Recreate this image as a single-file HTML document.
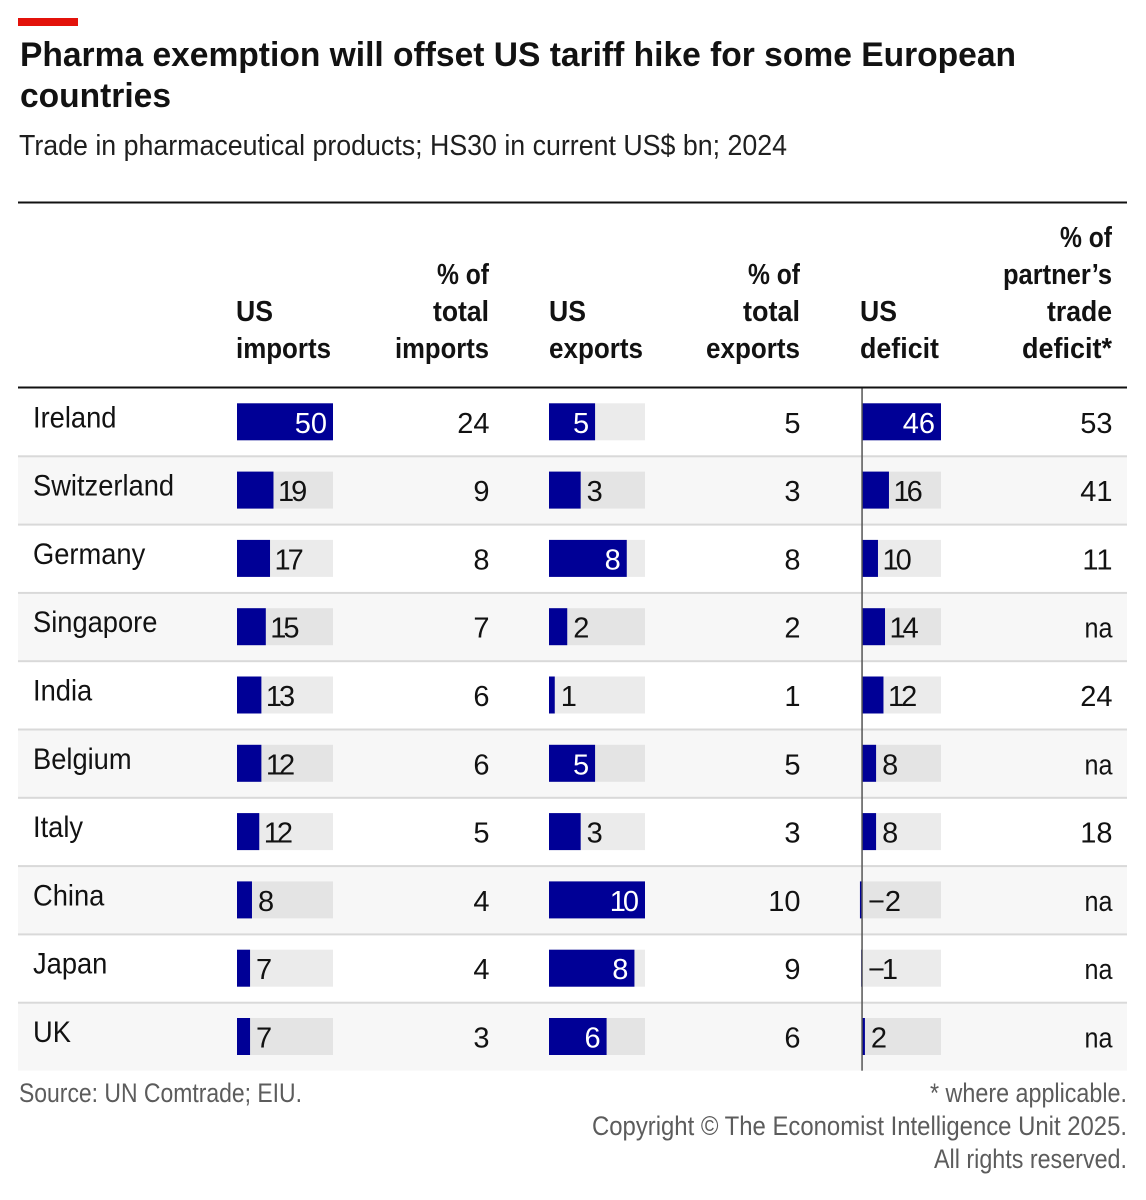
<!DOCTYPE html>
<html lang="en">
<head>
<meta charset="utf-8">
<title>Pharma exemption will offset US tariff hike for some European countries</title>
<style>
html,body{margin:0;padding:0;background:#fff;}
body{width:1146px;height:1200px;overflow:hidden;}
svg{display:block;font-family:"Liberation Sans",sans-serif;}
.hd{font-size:29px;font-weight:bold;fill:#121212;}
.ft{font-size:27px;fill:#5c5c5c;}
</style>
</head>
<body>
<svg id="chart" width="1146" height="1200" viewBox="0 0 1146 1200" xmlns="http://www.w3.org/2000/svg">
  <rect x="18" y="18" width="60" height="8" fill="#e3120b"/>
  <text x="20" y="66" font-size="34" font-weight="bold" fill="#121212" textLength="996" lengthAdjust="spacingAndGlyphs">Pharma exemption will offset US tariff hike for some European</text>
  <text x="20" y="107" font-size="34" font-weight="bold" fill="#121212" textLength="151" lengthAdjust="spacingAndGlyphs">countries</text>
  <text x="19" y="155" font-size="29" fill="#1f1f1f" textLength="768" lengthAdjust="spacingAndGlyphs">Trade in pharmaceutical products; HS30 in current US$ bn; 2024</text>
  <rect x="18" y="201.5" width="1109" height="2" fill="#121212"/>

  <g>
    <text class="hd" x="236" y="321" textLength="37" lengthAdjust="spacingAndGlyphs">US</text>
    <text class="hd" x="236" y="358" textLength="95" lengthAdjust="spacingAndGlyphs">imports</text>
    <text class="hd" x="437" y="284" textLength="52" lengthAdjust="spacingAndGlyphs">% of</text>
    <text class="hd" x="433" y="321" textLength="56" lengthAdjust="spacingAndGlyphs">total</text>
    <text class="hd" x="395" y="358" textLength="94" lengthAdjust="spacingAndGlyphs">imports</text>
    <text class="hd" x="549" y="321" textLength="37" lengthAdjust="spacingAndGlyphs">US</text>
    <text class="hd" x="549" y="358" textLength="94" lengthAdjust="spacingAndGlyphs">exports</text>
    <text class="hd" x="748" y="284" textLength="52" lengthAdjust="spacingAndGlyphs">% of</text>
    <text class="hd" x="743" y="321" textLength="57" lengthAdjust="spacingAndGlyphs">total</text>
    <text class="hd" x="706" y="358" textLength="94" lengthAdjust="spacingAndGlyphs">exports</text>
    <text class="hd" x="860" y="321" textLength="37" lengthAdjust="spacingAndGlyphs">US</text>
    <text class="hd" x="860" y="358" textLength="79" lengthAdjust="spacingAndGlyphs">deficit</text>
    <text class="hd" x="1060" y="247" textLength="52" lengthAdjust="spacingAndGlyphs">% of</text>
    <text class="hd" x="1003" y="284" textLength="109" lengthAdjust="spacingAndGlyphs">partner’s</text>
    <text class="hd" x="1047" y="321" textLength="65" lengthAdjust="spacingAndGlyphs">trade</text>
    <text class="hd" x="1022" y="358" textLength="90" lengthAdjust="spacingAndGlyphs">deficit*</text>
  </g>

  <g id="rows"></g>

  <rect x="18" y="386.5" width="1109" height="2" fill="#121212"/>

  <text class="ft" x="19" y="1102" textLength="283" lengthAdjust="spacingAndGlyphs">Source: UN Comtrade; EIU.</text>
  <text class="ft" x="930" y="1102" textLength="197" lengthAdjust="spacingAndGlyphs">* where applicable.</text>
  <text class="ft" x="592" y="1135" textLength="535" lengthAdjust="spacingAndGlyphs">Copyright © The Economist Intelligence Unit 2025.</text>
  <text class="ft" x="934" y="1168" textLength="193" lengthAdjust="spacingAndGlyphs">All rights reserved.</text>
</svg>

<script>
// Table data
var countries = ["Ireland","Switzerland","Germany","Singapore","India","Belgium","Italy","China","Japan","UK"];
var importValues = [50,19,17.2,15,12.7,12.7,11.6,7.8,6.8,6.8];
var importLabels = ["50","19","17","15","13","12","12","8","7","7"];
var importShares = ["24","9","8","7","6","6","5","4","4","3"];
var exportValues = [4.8,3.3,8.1,1.9,0.6,4.8,3.3,10,8.9,6];
var exportLabels = ["5","3","8","2","1","5","3","10","8","6"];
var exportShares = ["5","3","8","2","1","5","3","10","9","6"];
var deficitValues = [46,15.7,9.3,13.4,12.5,8.2,8.2,-1.2,-0.5,1.7];
var deficitLabels = ["46","16","10","14","12","8","8","−2","−1","2"];
var partnerShares = ["53","41","11","na","24","na","18","na","na","na"];

// Layout
var NS = "http://www.w3.org/2000/svg";
var rowsGroup = document.getElementById("rows");
var ROW_TOP = 387.7, ROW_H = 68.3, BAR_OFFSET = 15.6, BAR_H = 37;
var BAR_BLUE = "#000096";

// Axis functions
function xImports(v){ return 96 * v / 50; }
function xExports(v){ return 96 * v / 10; }
function xDeficit(v){ return 79 * v / 46; }
function rowY(i){ return ROW_TOP + i * ROW_H; }

function svgEl(tag, x, y, w, h, fill){
  var el = document.createElementNS(NS, tag);
  el.setAttribute("x", x);
  el.setAttribute("y", y);
  if (tag === "rect"){
    el.setAttribute("width", w);
    el.setAttribute("height", h);
    el.setAttribute("fill", fill);
  }
  return el;
}

function svgText(content, x, y, anchor, fill){
  var t = document.createElementNS(NS, "text");
  t.setAttribute("x", x);
  t.setAttribute("y", y);
  t.setAttribute("font-size", "29");
  t.setAttribute("text-anchor", anchor);
  t.setAttribute("fill", fill);
  t.textContent = content;
  return t;
}

function drawBarCell(g, i, originX, trackW, barPx, label, slug, striped){
  var y = rowY(i) + BAR_OFFSET;
  var track = svgEl("rect", originX, y, trackW, BAR_H, striped ? "#e4e4e4" : "#ebebeb");
  
  
  g.appendChild(track);

  var x0 = barPx < 0 ? originX + barPx : originX;
  var bar = svgEl("rect", x0, y, Math.abs(barPx), BAR_H, BAR_BLUE);
  
  
  g.appendChild(bar);

  var textW = label.length * 16;
  var inside = barPx >= textW + 16;
  var end = originX + Math.max(barPx, 0);
  var negative = label.charAt(0) === "−";
  var tight = label.length === 2 && (!inside || label.indexOf("1") >= 0) && (!negative || label.indexOf("1") >= 0);
  var spacing = tight ? 3 : 0;
  var baseline = y + BAR_H - 7.5;
  var txt;
  if (inside){
    txt = svgText(label, end - 6 - spacing, baseline, "end", "#ffffff");
  } else {
    var gap = (label.length === 1 || negative) ? 6 : 4.5;
    txt = svgText(label, end + gap, baseline, "start", "#121212");
  }
  if (tight){
    txt.setAttribute("letter-spacing", "-" + spacing);
  }
  
  
  g.appendChild(txt);
}

function drawNumber(g, i, rightX, label, slug){
  var t = svgText(label, rightX, rowY(i) + BAR_OFFSET + BAR_H - 7.5, "end", "#121212");
  if (label === "na"){
    t.setAttribute("textLength", "28");
    t.setAttribute("lengthAdjust", "spacingAndGlyphs");
  }
  
  
  g.appendChild(t);
}

countries.forEach(function(name, i){
  var striped = i % 2 === 1;
  var key = name.toLowerCase();
  var g = document.createElementNS(NS, "g");
  
  

  if (striped){
    var stripe = svgEl("rect", 18, rowY(i), 1109, ROW_H, "#f7f7f7");
    
    
    g.appendChild(stripe);
  }
  if (i > 0){
    var sep = svgEl("rect", 18, rowY(i) - 0.7, 1109, 2, "#d9d9d9");
    
    
    g.appendChild(sep);
  }

  var lab = document.createElementNS(NS, "text");
  lab.setAttribute("font-size", "30");
  lab.setAttribute("fill", "#121212");
  lab.setAttribute("transform", "translate(33," + (rowY(i) + 39.6) + ") scale(0.91,1)");
  lab.textContent = name;
  
  
  g.appendChild(lab);

  drawBarCell(g, i, 237, 96, xImports(importValues[i]), importLabels[i], 'imports-' + key, striped);
  drawNumber(g, i, 489.5, importShares[i], 'pct-imports-' + key);
  drawBarCell(g, i, 549, 96, xExports(exportValues[i]), exportLabels[i], 'exports-' + key, striped);
  drawNumber(g, i, 800.5, exportShares[i], 'pct-exports-' + key);
  drawBarCell(g, i, 862, 79, xDeficit(deficitValues[i]), deficitLabels[i], 'deficit-' + key, striped);
  drawNumber(g, i, 1112.5, partnerShares[i], 'pct-partner-' + key);

  rowsGroup.appendChild(g);
});

var zero = svgEl("rect", 861.3, 388, 1.5, rowY(countries.length) - 388, "#555555");


rowsGroup.appendChild(zero);
</script>
</body>
</html>
